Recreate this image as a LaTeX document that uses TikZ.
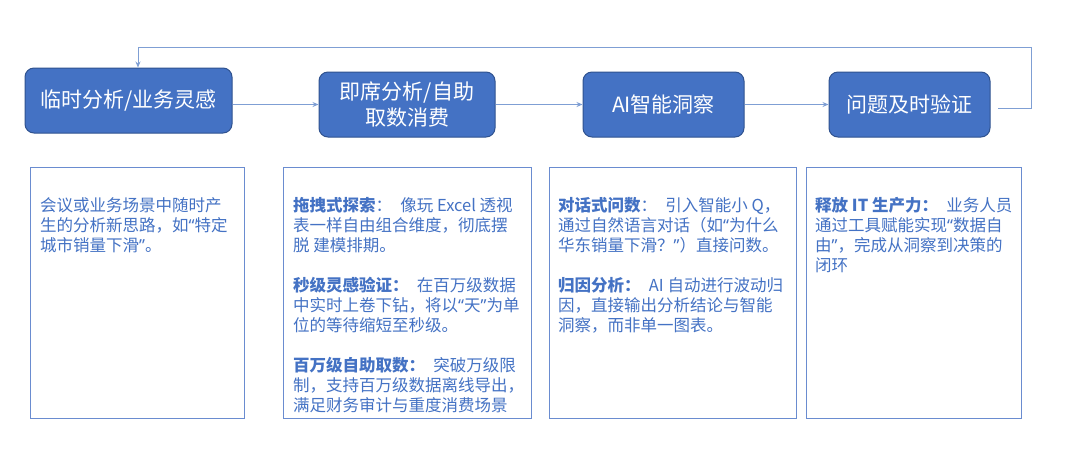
\documentclass[tikz,border=0pt]{standalone}
\usepackage{fontspec}
\setmainfont{Noto Sans CJK SC}
\newfontfamily\latq{Noto Sans}
\newcommand{\myLq}{{\latq “}}
\newcommand{\myRq}{{\latq ”}}
\usetikzlibrary{arrows.meta}
\definecolor{boxfill}{HTML}{4472C4}
\definecolor{boxedge}{HTML}{2F528F}
\definecolor{linkcol}{HTML}{7F9FD4}
\definecolor{descedge}{HTML}{6A8CD0}
\definecolor{desctext}{HTML}{4472C4}
\begin{document}
\begin{tikzpicture}[x=1pt,y=-1pt,
  stagebox/.style={draw=boxedge, line width=1pt, fill=boxfill, rounded corners=9pt,
    text=white, align=center, inner sep=0pt, minimum height=65pt,
    font=\fontsize{21}{26}\selectfont},
  descframe/.style={draw=descedge, line width=1pt, fill=none, inner sep=0pt},
  desctxt/.style={anchor=north west, inner sep=0pt, align=left, text=desctext,
    font=\fontsize{16.5}{20}\selectfont},
  link/.style={draw=linkcol, line width=0.9pt, -{Stealth[length=6pt,width=5pt]}},
  plainlink/.style={draw=linkcol, line width=0.9pt}
]
\useasboundingbox (0,0) rectangle (1080,459);
\fill[white] (0,0) rectangle (1080,459);

% stage boxes
\node[stagebox, minimum width=207pt] (b1) at (128.5,100.5) {临时分析/业务灵感};
\node[stagebox, minimum width=176pt] (b2) at (407,104.5) {即席分析/自助\\取数消费};
\node[stagebox, minimum width=161pt] (b3) at (663.5,104.5) {AI智能洞察};
\node[stagebox, minimum width=161pt] (b4) at (909.5,104.5) {问题及时验证};

% connectors
\draw[link] (b1.east |- b2.west) -- (b2.west);
\draw[link] (b2.east) -- (b3.west);
\draw[link] (b3.east) -- (b4.west);
\coordinate (fbs) at (998,108);
\coordinate (fbr) at (1031,108);
\coordinate (fbt) at (1031,47);
\coordinate (fbl) at (138,47);
\draw[link] (fbs) -- (fbr) -- (fbt) -- (fbl) -- (fbl |- b1.north);

% description frames
\node[descframe, minimum width=214pt, minimum height=251pt, anchor=north west] (da) at (30,167) {};
\node[descframe, minimum width=248pt, minimum height=251pt, anchor=north west] (db) at (283,167) {};
\node[descframe, minimum width=247pt, minimum height=251pt, anchor=north west] (dc) at (549,167) {};
\node[descframe, minimum width=215pt, minimum height=251pt, anchor=north west] (dd) at (806,167) {};

% description texts
\node[desctxt] (ta) at (40,197) {会议或业务场景中随时产\\生的分析新思路，如\myLq 特定\\城市销量下滑\myRq 。};

\node[desctxt] (tb) at (293,197) {{\bfseries 拖拽式探索}：\hspace{0.5em}像玩 Excel 透视\\表一样自由组合维度，彻底摆\\脱 建模排期。\\[20pt]
{\bfseries 秒级灵感验证：}\hspace{0.5em}在百万级数据\\中实时上卷下钻，将以\myLq 天\myRq 为单\\位的等待缩短至秒级。\\[20pt]
{\bfseries 百万级自助取数：}\hspace{0.5em}突破万级限\\制，支持百万级数据离线导出，\\满足财务审计与重度消费场景};

\node[desctxt] (tc) at (558,197) {{\bfseries 对话式问数}：\hspace{0.5em}引入智能小 Q，\\通过自然语言对话（如\myLq 为什么\\华东销量下滑？\myRq ）直接问数。\\[20pt]
{\bfseries 归因分析：}\hspace{0.5em}AI 自动进行波动归\\因，直接输出分析结论与智能\\洞察，而非单一图表。};

\node[desctxt] (td) at (815,197) {{\bfseries 释放 IT 生产力：}\hspace{0.5em}业务人员\\通过工具赋能实现\myLq 数据自\\由\myRq ，完成从洞察到决策的\\闭环};
\end{tikzpicture}
\end{document}
